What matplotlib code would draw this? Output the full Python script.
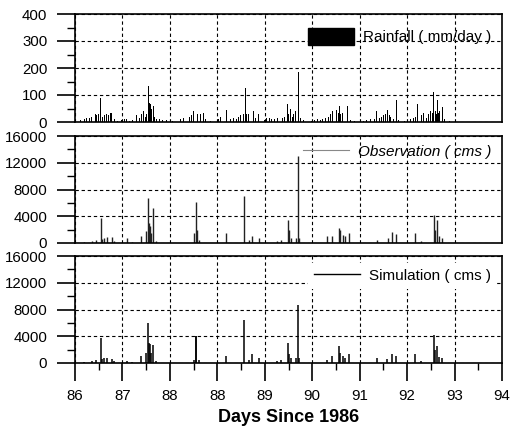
import matplotlib
matplotlib.use("Agg")
import matplotlib.pyplot as plt
from matplotlib.lines import Line2D
from matplotlib.patches import Patch

plt.rcParams['font.family'] = ['Liberation Sans', 'DejaVu Sans']

# x positions in axis units (0 = "86" ... 9 = "94")
xtick_pos = [0, 1, 2, 3, 4, 5, 6, 7, 8, 9]
xtick_labels = ["86", "87", "88", "88", "89", "90", "91", "92", "93", "94"]

# Rainfall (mm/day)
rain_t = [0.12, 0.20, 0.25, 0.30, 0.34, 0.40, 0.44, 0.46, 0.50, 0.54, 0.58, 0.62, 0.67, 0.70, 0.74, 0.77, 0.80, 0.84, 0.90,
          0.98, 1.05, 1.09, 1.15, 1.22, 1.30, 1.36, 1.40, 1.44, 1.48, 1.51, 1.55, 1.57, 1.60, 1.62, 1.65, 1.68, 1.72, 1.79, 1.85, 1.93,
          2.05, 2.15, 2.22, 2.28, 2.36, 2.42, 2.46, 2.50, 2.53, 2.55, 2.58, 2.64, 2.71, 2.75,
          2.85, 2.95, 3.02, 3.06, 3.12, 3.20, 3.27, 3.34, 3.40, 3.44, 3.48, 3.52, 3.56, 3.59, 3.62, 3.66, 3.71, 3.76, 3.80, 3.87, 3.92,
          4.00, 4.04, 4.10, 4.15, 4.20, 4.26, 4.32, 4.38, 4.42, 4.47, 4.50, 4.54, 4.58, 4.61, 4.64, 4.68, 4.71, 4.75, 4.82, 4.89,
          4.98, 5.05, 5.12, 5.17, 5.22, 5.28, 5.34, 5.38, 5.42, 5.46, 5.50, 5.52, 5.55, 5.58, 5.60, 5.63, 5.67, 5.75, 5.80,
          5.90, 6.01, 6.08, 6.15, 6.22, 6.28, 6.32, 6.36, 6.42, 6.46, 6.50, 6.55, 6.58, 6.62, 6.65, 6.68, 6.72, 6.77, 6.82,
          6.95, 7.02, 7.08, 7.14, 7.18, 7.21, 7.25, 7.30, 7.35, 7.40, 7.45, 7.50, 7.53, 7.56, 7.59, 7.62, 7.64, 7.67, 7.69, 7.74, 7.79, 7.84, 7.90]
rain_mm = [8, 12, 15, 14, 18, 22, 28, 25, 30, 88, 20, 25, 30, 25, 35, 35, 20, 10, 5,
           8, 10, 10, 5, 8, 25, 15, 30, 40, 20, 30, 132, 70, 65, 50, 58, 20, 10, 10, 8, 8,
           5, 10, 12, 15, 15, 20, 25, 40, 60, 95, 30, 30, 35, 10,
           5, 5, 10, 20, 10, 45, 10, 15, 12, 20, 25, 28, 30, 126, 30, 30, 55, 40, 15, 30, 8,
           8, 15, 15, 12, 12, 15, 12, 15, 20, 65, 30, 50, 20, 30, 40, 35, 184, 15, 8, 20,
           5, 8, 10, 8, 12, 15, 20, 30, 40, 20, 25, 45, 35, 61, 30, 35, 15, 58, 8,
           5, 8, 5, 8, 10, 15, 12, 40, 15, 20, 25, 30, 45, 25, 20, 35, 10, 80, 8,
           5, 8, 10, 15, 20, 66, 20, 25, 35, 15, 30, 40, 35, 110, 40, 30, 80, 35, 40, 55, 10, 15, 5]

# Observed discharge peaks (cms)
obs_t = [0.20, 0.35, 0.45, 0.54, 0.57, 0.62, 0.67, 0.77, 0.82,
         1.09, 1.20, 1.40, 1.50, 1.54, 1.57, 1.59, 1.61, 1.65, 1.70,
         2.50, 2.54, 2.57, 2.62,
         3.18, 3.57, 3.66, 3.73, 3.87,
         4.26, 4.35, 4.48, 4.52, 4.55, 4.66, 4.70, 4.73,
         5.31, 5.42, 5.56, 5.58, 5.65, 5.69, 5.77,
         6.36, 6.60, 6.68, 6.77,
         7.17, 7.30, 7.56, 7.58, 7.63, 7.67, 7.74]
obs_q = [200, 300, 500, 3700, 600, 700, 900, 900, 300,
         800, 200, 1100, 1800, 6800, 3000, 2500, 1500, 5300, 300,
         1500, 6200, 2000, 500,
         1500, 7000, 500, 1000, 700,
         300, 400, 3500, 1900, 800, 700, 13000, 700,
         1000, 1000, 2300, 2000, 1200, 1000, 1500,
         400, 700, 1700, 1300,
         1500, 300, 4200, 1900, 3400, 1100, 700]

# Simulated discharge peaks (cms)
sim_t = [0.20, 0.35, 0.45, 0.54, 0.57, 0.62, 0.67, 0.77, 0.82,
         1.09, 1.20, 1.40, 1.50, 1.54, 1.57, 1.59, 1.61, 1.65, 1.70,
         2.50, 2.54, 2.56, 2.62,
         3.18, 3.57, 3.66, 3.73, 3.87,
         4.26, 4.35, 4.48, 4.52, 4.55, 4.66, 4.70, 4.73,
         5.31, 5.42, 5.56, 5.58, 5.65, 5.69, 5.77,
         6.36, 6.58, 6.68, 6.77,
         7.17, 7.30, 7.56, 7.58, 7.63, 7.67, 7.74]
sim_q = [200, 300, 500, 3800, 600, 800, 700, 600, 300,
         250, 200, 1000, 1500, 6000, 3000, 2800, 1500, 2700, 300,
         500, 4000, 4000, 400,
         1000, 6500, 500, 1300, 800,
         300, 400, 3000, 1300, 800, 700, 8700, 700,
         500, 1100, 2500, 1500, 1000, 800, 1400,
         800, 600, 1300, 1100,
         1300, 300, 4200, 2000, 2600, 900, 700]

fig = plt.figure(figsize=(5.11, 4.32), dpi=100)
W = 511.0
H = 432.0
left = 75 / W
width = 427 / W

def add_axes(top_px, bottom_px):
    return fig.add_axes([left, 1 - bottom_px / H, width, (bottom_px - top_px) / H])

ax1 = add_axes(14, 122)
ax2 = add_axes(136, 243)
ax3 = add_axes(256, 363)

grid_kw = dict(color='black', linewidth=0.8, linestyle=(0, (3, 2.5)))

for ax in (ax1, ax2, ax3):
    ax.set_xlim(0, 9)
    ax.set_xticks(xtick_pos)
    ax.grid(True, which='major', **grid_kw)
    ax.set_axisbelow(True)
    for s in ax.spines.values():
        s.set_linewidth(1.2)
    ax.tick_params(axis='y', which='major', direction='out', length=13, width=1.2,
                   labelsize=10.8, pad=7)
    ax.tick_params(axis='y', which='minor', direction='out', length=6, width=1.0)

# Top: rainfall
ax1.bar(rain_t, rain_mm, width=0.018, color='black', linewidth=0)
ax1.set_ylim(0, 400)
ax1.set_yticks([0, 100, 200, 300, 400])
ax1.set_yticks([50, 150, 250, 350], minor=True)
ax1.tick_params(axis='x', which='both', length=0, labelbottom=False)
ax1.legend(handles=[Patch(facecolor='black', edgecolor='black', label='Rainfall ( mm/day )')],
           loc='upper right', bbox_to_anchor=(1.0, 0.97), frameon=False,
           fontsize=11, handlelength=3.0, handleheight=1.3, handletextpad=0.6,
           borderaxespad=0.3)

# Middle: observation
ax2.vlines(obs_t, 0, obs_q, color='#222222', linewidth=1.0)
ax2.set_ylim(0, 16000)
ax2.set_yticks([0, 4000, 8000, 12000, 16000])
ax2.set_yticks([2000, 6000, 10000, 14000], minor=True)
ax2.tick_params(axis='x', which='both', length=0, labelbottom=False)
ax2.legend(handles=[Line2D([], [], color='#888888', linewidth=0.8,
                           label='Observation ( cms )')],
           loc='upper right', bbox_to_anchor=(1.0, 1.02), frameon=False,
           handlelength=3.0, handletextpad=0.6,
           borderaxespad=0.3, prop={'style': 'italic', 'size': 11})

# Bottom: simulation
ax3.vlines(sim_t, 0, sim_q, color='black', linewidth=1.1)
ax3.set_ylim(0, 16000)
ax3.set_yticks([0, 4000, 8000, 12000, 16000])
ax3.set_yticks([2000, 6000, 10000, 14000], minor=True)
ax3.set_xticks([0.5 + i for i in range(9)], minor=True)
ax3.set_xticklabels(xtick_labels)
ax3.tick_params(axis='x', which='major', direction='out', length=13, width=1.2,
                labelsize=10.8, pad=6)
ax3.tick_params(axis='x', which='minor', direction='out', length=5, width=1.0)
ax3.legend(handles=[Line2D([], [], color='black', linewidth=1.0,
                           label='Simulation ( cms )')],
           loc='upper right', bbox_to_anchor=(1.0, 0.98), frameon=True,
           facecolor='white', edgecolor='none', framealpha=1.0,
           fontsize=11, handlelength=3.0, handletextpad=0.6,
           borderaxespad=0.3)
ax3.set_xlabel('Days Since 1986', fontsize=13, fontweight='bold', labelpad=4)

fig.savefig('out.png', dpi=100)
